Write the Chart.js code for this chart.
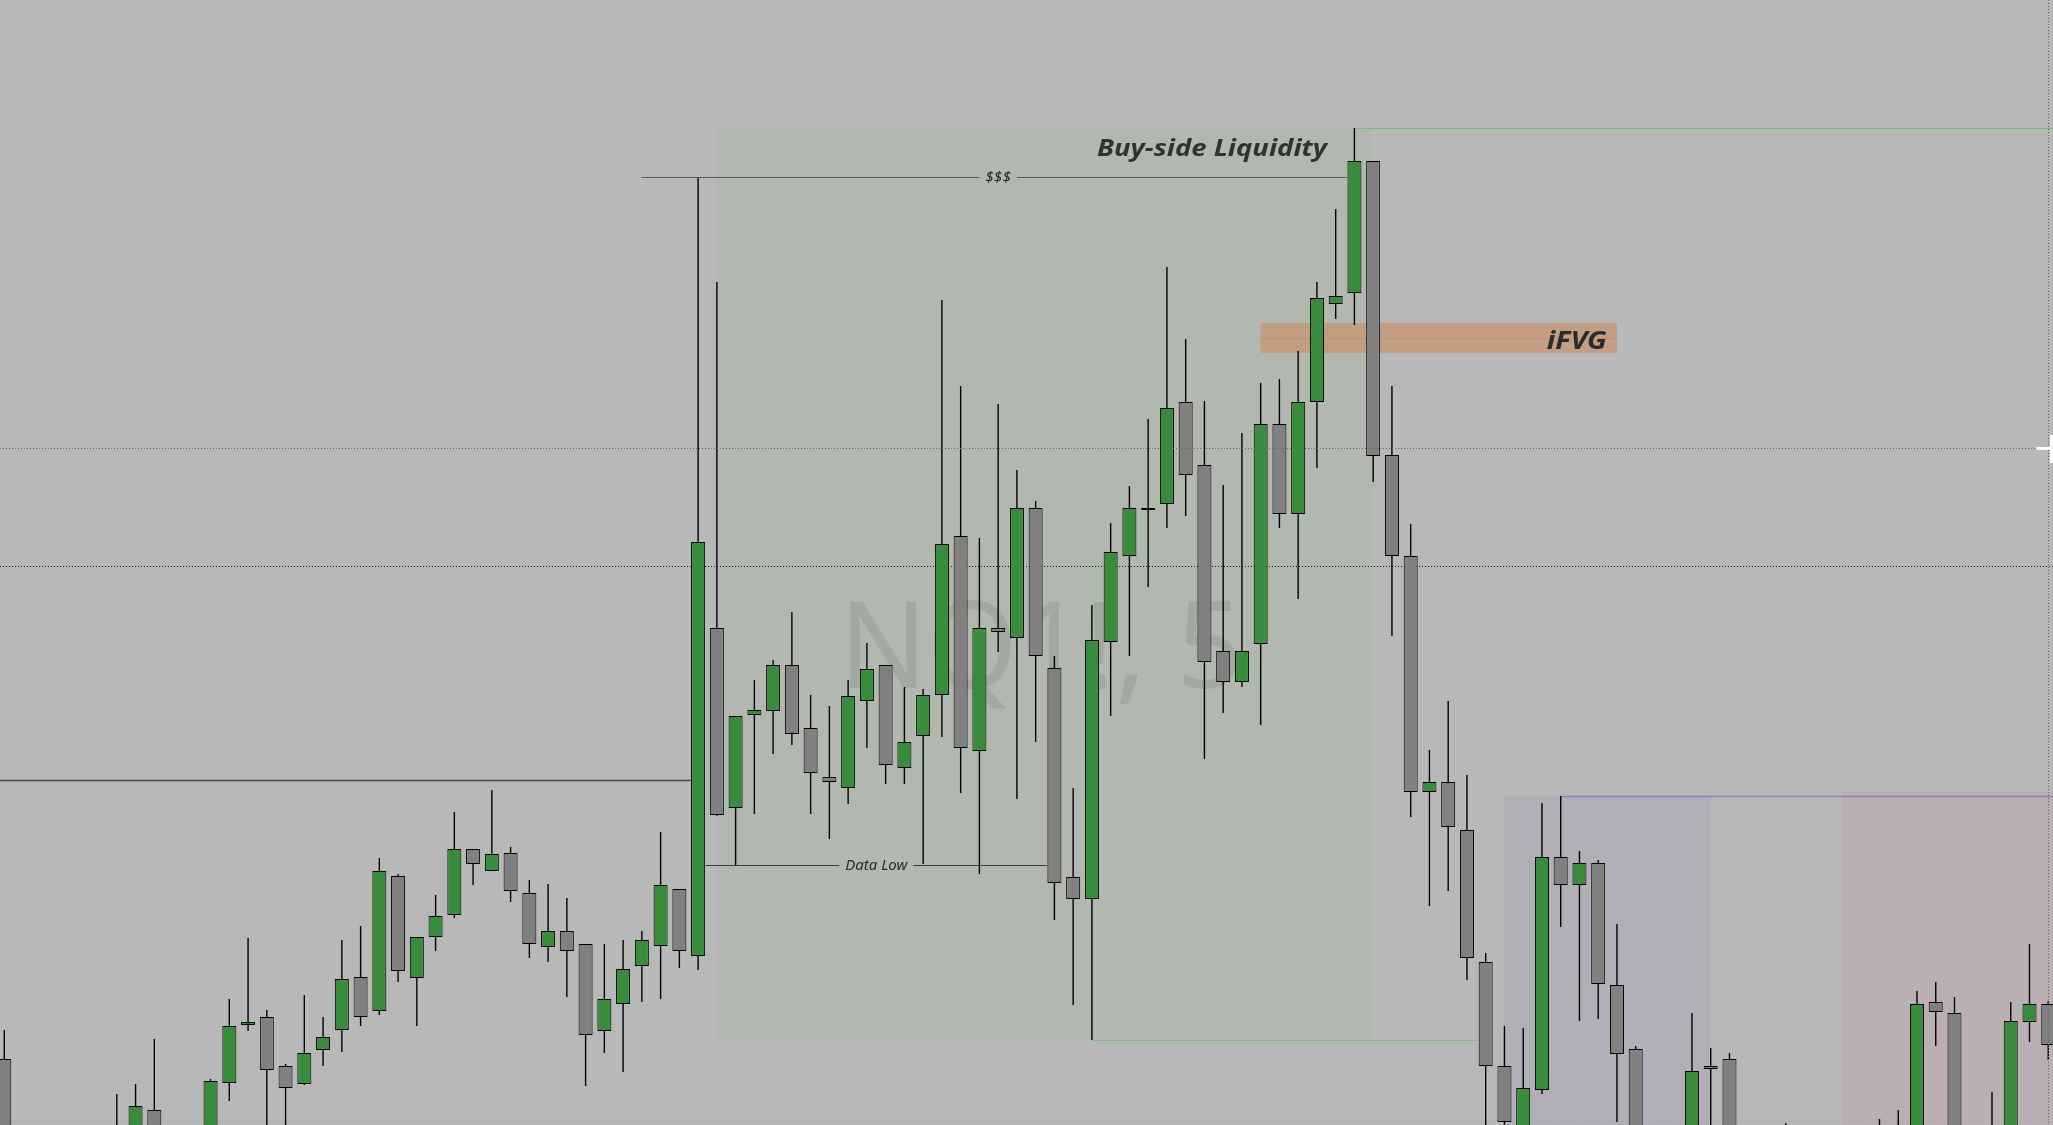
<!DOCTYPE html>
<html>
<head>
<meta charset="utf-8">
<title>NQ1!, 5</title>
<script src="https://cdn.jsdelivr.net/npm/chart.js@4.4.1/dist/chart.umd.min.js"></script>
<style>
  html, body { margin: 0; padding: 0; background: #b8b8b8; overflow: hidden; }
  #wrap { position: relative; width: 2053px; height: 1125px; }
</style>
</head>
<body>
<div id="wrap"><canvas id="nq-chart"></canvas></div>
<script>
// 5 minute bars, index 0 = leftmost candle on screen
const bars = [];
for (let i = 0; i < 110; i++) bars.push(i);

const opens = [
  14916.5, 14893.75, 14887.5, 14881.25, 14885, 14888.75, 14896.75, 14893.75, 14903.75, 14891.25,
  14893.75, 14896.25, 14910.5, 14925, 14927, 14914.75, 14910.25, 14918.75, 14923.75, 14937,
  14928.5, 14962.25, 14936.75, 14947, 14952.5, 14969, 14963.5, 14968, 14958, 14944.5,
  14948.5, 14945.25, 14923.5, 14930.25, 14939.75, 14944.75, 14959, 14942.25, 15024.25, 14979.25,
  15002.5, 15003.5, 15015, 14999.25, 14987, 14984.25, 15006, 15015, 14989.25, 14997.25,
  15007.5, 15047.25, 14993.5, 15024.25, 15021.75, 15054.25, 15014.25, 14962, 14956.5, 15020.75,
  15042.25, 15054.25, 15055.25, 15080.75, 15065, 15018.5, 15010.75, 15020.25, 15075.25, 15052.75,
  15080.75, 15105.25, 15108, 15141, 15067.5, 15042.25, 14983.25, 14985.75, 14973.75, 14940.75,
  14914.75, 14893.75, 14908.75, 14967, 14960, 14965.5, 14935, 14919, 14896.25, 14890,
  14895, 14914.75, 14916.5, 14895, 14890, 14888.75, 14893.75, 14887.5, 14883.75, 14886.25,
  14891.25, 14897.5, 14893.75, 14930.75, 14928, 14896.25, 14892.5, 14898.75, 14925.75, 14930.25
];
const highs = [
  14923.75, 14896.25, 14891.25, 14886.25, 14890, 14893.75, 14907.75, 14910.25, 14921.5, 14899.25,
  14898.75, 14911.5, 14931.5, 14946.75, 14928.75, 14915.25, 14932.5, 14927, 14946.25, 14949.75,
  14966.75, 14962.75, 14947, 14957.5, 14978.25, 14969, 14983.75, 14969.5, 14961.25, 14960.25,
  14956.75, 14945.25, 14945.25, 14946.25, 14948.5, 14973.25, 14959, 15137, 15110.75, 15002.25,
  15011.25, 15016.25, 15028.25, 15007.5, 15004.75, 15011.25, 15020.5, 15015, 15009.5, 15009,
  15106.25, 15084.75, 15046.75, 15080.25, 15063.75, 15056, 15017.25, 14984.25, 15030, 15050.5,
  15059.75, 15076.5, 15114.5, 15096.5, 15081, 15060, 15073, 15085.5, 15086.5, 15093.5,
  15110.75, 15129, 15149.25, 15141, 15084.75, 15050.25, 14993.75, 15006, 14987.5, 14943,
  14924.75, 14924.25, 14980.5, 14982.25, 14968.5, 14966.25, 14950.25, 14919.75, 14898.75, 14899.25,
  14928, 14919.25, 14918, 14897.5, 14893.75, 14900.5, 14896.25, 14891.25, 14888.75, 14893.75,
  14901.5, 14903.75, 14933.5, 14935.75, 14932, 14897.5, 14908.25, 14930.75, 14945.25, 14931
];
const lows = [
  14888.75, 14885, 14878.75, 14877.5, 14882.5, 14886.75, 14891.25, 14891.25, 14893.75, 14888.75,
  14891.25, 14893.75, 14906, 14923.5, 14896.25, 14897.5, 14910, 14914.75, 14918.25, 14924.75,
  14927.5, 14935.75, 14924.75, 14943.5, 14951.75, 14960, 14963.5, 14955.75, 14941.75, 14940.75,
  14932, 14909.75, 14918, 14913.25, 14930.75, 14931.5, 14939.25, 14938.75, 14977.25, 14965,
  14977.75, 14992.75, 14995, 14977.75, 14971.5, 14980.25, 14994.25, 14985.25, 14985.25, 14965.25,
  14997, 14983, 14962.75, 15018.25, 14981.5, 14995.75, 14951.25, 14930, 14921.25, 15002.25,
  15017.25, 15034.5, 15049.25, 15052.25, 14991.5, 15003, 15009.5, 15000, 15049.25, 15031.5,
  15064.25, 15101.5, 15100, 15060.75, 15022.25, 14977, 14954.75, 14958.5, 14936.25, 14896.25,
  14895, 14891.25, 14907.75, 14949.5, 14926, 14926.5, 14900.75, 14893.75, 14888.75, 14887.5,
  14893.75, 14897.5, 14893.75, 14887.5, 14883.75, 14886.25, 14886.25, 14881.25, 14880, 14883.75,
  14890, 14891.25, 14892.5, 14919.75, 14893.75, 14888.75, 14891.25, 14897.5, 14920.75, 14916.25
];
const closes = [
  14893.75, 14887.5, 14881.25, 14885, 14888.75, 14896.25, 14893.75, 14904.75, 14896.25, 14897.5,
  14898.25, 14911, 14924.75, 14925.75, 14913.75, 14909.25, 14918, 14922, 14936.5, 14927,
  14963.5, 14938.5, 14947, 14952.25, 14969, 14965.25, 14967.75, 14958.5, 14945.25, 14948.5,
  14943.5, 14922.5, 14931.5, 14939, 14946.25, 14960, 14943.5, 15045.75, 14977.5, 15002.25,
  15003.75, 15015, 14997.75, 14988, 14985.75, 15007.25, 15014, 14990, 14995.75, 15007.5,
  15045.25, 14994.25, 15024.25, 15023.25, 15054.25, 15017.25, 14960.5, 14956.5, 15021.25, 15043.25,
  15054.25, 15053.75, 15079.25, 15062.5, 15015.75, 15010.75, 15018.5, 15075.25, 15052.75, 15080.75,
  15106.75, 15107.25, 15141, 15067.25, 15042.25, 14983.25, 14985.75, 14974.5, 14941.75, 14914.75,
  14900.75, 14909.25, 14967, 14960, 14965.5, 14935.25, 14917.75, 14896.25, 14891.25, 14896.25,
  14913.5, 14914, 14896.25, 14890, 14886.25, 14897.5, 14887.5, 14883.75, 14886.25, 14891.25,
  14898.75, 14893.75, 14930.25, 14928.25, 14896.25, 14891.25, 14898.75, 14926, 14930.25, 14920
];

// levels / zones drawn on the chart (bar index, price)
const buySideLevel = 15149.25;
const dollarLevel = 15137;
const dataLowLevel = 14965;
const prevLevel = 14986.25;
const fvgTop = 15100.5, fvgBottom = 15093, fvgMid = 15096.75;
const purpleLevel = 14982.25;
const pinkTop = 14983.25;
const priceLine = 15039.75;
const crossPrice = 15069.25, crossBar = 109;
const bottomLine = 14901;

const upColor = '#388c3c';
const downColor = '#808080';

function hline(ctx, x1, x2, y, color, width, dash) {
  ctx.save();
  ctx.beginPath();
  ctx.strokeStyle = color;
  ctx.lineWidth = width;
  ctx.setLineDash(dash || []);
  const yy = Math.round(y) + 0.5;
  ctx.moveTo(x1, yy);
  ctx.lineTo(x2, yy);
  ctx.stroke();
  ctx.restore();
}

function box(ctx, x1, y1, x2, y2, fill) {
  ctx.fillStyle = fill;
  ctx.fillRect(x1, y1, x2 - x1, y2 - y1);
}

// draws text squeezed/stretched to a given width; anchor is left/center/right
function fitText(ctx, text, x, y, width, anchor) {
  const w = ctx.measureText(text).width;
  const sx = width / w;
  ctx.save();
  ctx.translate(x, y);
  ctx.scale(sx, 1);
  ctx.textAlign = anchor;
  ctx.fillText(text, 0, 0);
  ctx.restore();
}

const drawings = {
  id: 'drawings',
  beforeDraw(chart) {
    const ctx = chart.ctx;
    ctx.save();
    ctx.fillStyle = '#b8b8b8';
    ctx.fillRect(0, 0, chart.width, chart.height);
    ctx.restore();
  },
  beforeDatasetsDraw(chart) {
    const ctx = chart.ctx;
    const X = v => chart.scales.x.getPixelForValue(v);
    const Y = v => chart.scales.y.getPixelForValue(v);
    const W = chart.width, H = chart.height;
    ctx.save();

    // shaded zones
    box(ctx, X(38), Y(buySideLevel), X(73), Y(lows[58]), '#b2b7b0');
    box(ctx, X(80), Y(purpleLevel), X(91), H, '#b3afb8');
    box(ctx, X(98), Y(pinkTop), W, H, '#bbafb3');
    box(ctx, X(67), Y(fvgTop), X(86), Y(fvgBottom), 'rgba(214,119,54,0.4)');
    hline(ctx, X(67), X(86), Y(fvgMid), '#e8702a', 1, [1.5, 2.5]);

    // watermark
    ctx.fillStyle = '#a3a8a1';
    ctx.font = '120px "Noto Sans"';
    ctx.textBaseline = 'alphabetic';
    fitText(ctx, 'NQ1!, 5', X(55.28), Y(15009.2), 404, 'center');

    // level lines
    hline(ctx, -2, X(36.63), Y(prevLevel), '#4b4b4b', 1.4);
    hline(ctx, 0, W, Y(priceLine), '#111', 1, [1, 2]);
    hline(ctx, 0, W, Y(bottomLine), '#9c9c9c', 1, [1, 2]);
    hline(ctx, X(72), W, Y(buySideLevel), '#7dbb7d', 1.2);
    hline(ctx, X(58), X(78.6), Y(lows[58]), '#85b985', 1.2);
    hline(ctx, X(83), W, Y(purpleLevel), '#9678cf', 1.5);
    ctx.restore();
  },
  afterDatasetsDraw(chart) {
    const ctx = chart.ctx;
    const X = v => chart.scales.x.getPixelForValue(v);
    const Y = v => chart.scales.y.getPixelForValue(v);
    const W = chart.width, H = chart.height;
    ctx.save();
    ctx.textBaseline = 'middle';

    // $$$ line with label
    ctx.font = 'italic 14px "Noto Sans"';
    let tw = 26;
    let cx = X(53), cy = Y(dollarLevel);
    hline(ctx, X(33.98), cx - tw / 2 - 6, cy, '#5a5e59', 1);
    hline(ctx, cx + tw / 2 + 6, X(71.6), cy, '#5a5e59', 1);
    ctx.fillStyle = '#1e1e1e';
    fitText(ctx, '$$$', cx, Math.round(cy) + 1, tw, 'center');

    // Data Low line with label
    ctx.font = 'italic 15px "Noto Sans"';
    tw = 62;
    cx = X(46.5); cy = Y(dataLowLevel);
    hline(ctx, X(37.4), cx - tw / 2 - 6, cy, '#3a3a3a', 1);
    hline(ctx, cx + tw / 2 + 6, X(55.6), cy, '#3a3a3a', 1);
    ctx.fillStyle = '#2a2a2a';
    fitText(ctx, 'Data Low', cx, Math.round(cy) + 1, tw, 'center');

    // labels
    ctx.textBaseline = 'alphabetic';
    ctx.fillStyle = '#2e332e';
    ctx.font = 'italic bold 24px "Noto Sans"';
    fitText(ctx, 'Buy-side Liquidity', X(70.54), Y(15142.3), 230, 'right');
    ctx.fillStyle = '#2b2b2b';
    ctx.font = 'italic bold 25.5px "Noto Sans"';
    fitText(ctx, 'iFVG', X(85.45), Y(15094), 60, 'right');

    // crosshair
    hline(ctx, 0, W, Y(crossPrice), '#666', 1, [1, 2]);
    ctx.beginPath();
    ctx.strokeStyle = '#666';
    ctx.lineWidth = 1;
    ctx.setLineDash([1, 2]);
    const vx = Math.round(X(crossBar)) + 0.5;
    ctx.moveTo(vx, 0);
    ctx.lineTo(vx, H);
    ctx.stroke();
    ctx.setLineDash([]);

    // cursor
    const cyy = Math.round(Y(crossPrice));
    ctx.fillStyle = '#ffffff';
    ctx.fillRect(vx - 12, cyy - 1, W - vx + 12, 3);
    ctx.fillRect(vx + 1.5, cyy - 13, 3, 28);
    ctx.restore();
  }
};

const config = {
  type: 'bar',
  data: {
    datasets: [
      {
        label: 'body',
        data: bars.map(i => ({ x: i, y: [opens[i], closes[i]] })),
        backgroundColor: bars.map(i => closes[i] >= opens[i] ? upColor : downColor),
        borderColor: '#000000',
        borderWidth: 1,
        borderSkipped: false,
        inflateAmount: 0,
        barThickness: 14,
        grouped: false,
        order: 0
      },
      {
        label: 'wick',
        data: bars.map(i => ({ x: i, y: [lows[i], highs[i]] })),
        backgroundColor: '#000000',
        borderWidth: 0,
        inflateAmount: 0,
        barThickness: 1.4,
        grouped: false,
        order: 1
      }
    ]
  },
  options: {
    responsive: true,
    maintainAspectRatio: false,
    animation: false,
    events: [],
    layout: { padding: 0 },
    plugins: {
      legend: { display: false },
      tooltip: { enabled: false }
    },
    scales: {
      x: { type: 'linear', min: -0.2293, max: 109.2533, offset: false, display: false },
      y: { min: 14900, max: 15181.25, display: false }
    }
  },
  plugins: [drawings]
};

let obj = document.getElementById('nq-chart');
let nqChart = new Chart(obj, config);
</script>
</body>
</html>
